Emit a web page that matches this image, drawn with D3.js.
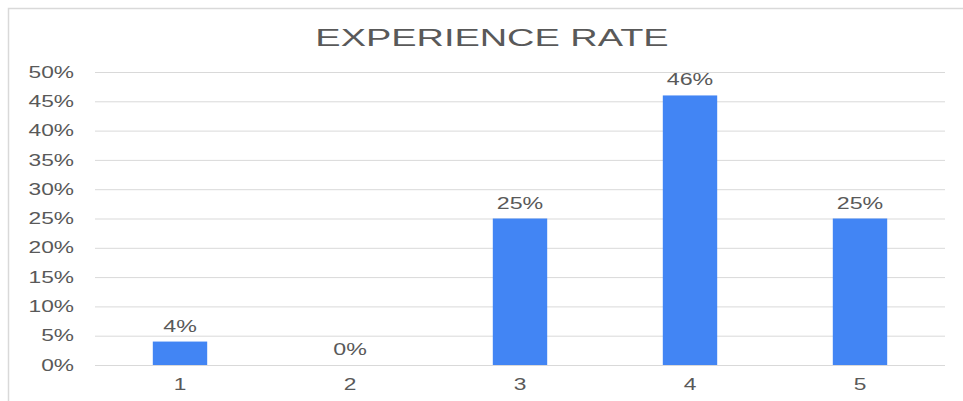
<!DOCTYPE html>
<html><head><meta charset="utf-8">
<script src="https://cdn.jsdelivr.net/npm/d3@7"></script>
<style>body{margin:0;background:#fff;}svg{display:block;}</style>
</head><body>
<script>
const categories = ["1","2","3","4","5"];
const values = [0.04, 0.00, 0.25, 0.46, 0.25];
const valueLabels = ["4%","0%","25%","46%","25%"];
const yTicks = [0,0.05,0.10,0.15,0.20,0.25,0.30,0.35,0.40,0.45,0.50];
const title = "EXPERIENCE RATE";

const W = 963, H = 401;
const svg = d3.select("body").append("svg").attr("width", W).attr("height", H);
svg.append("rect").attr("x", 8.5).attr("y", 8.5).attr("width", W).attr("height", H)
  .attr("fill", "#fff").attr("stroke", "#d9d9d9").attr("stroke-width", 1.5);

const x = d3.scaleBand().domain(categories).range([95, 945]).paddingInner(0.68).paddingOuter(0.34);
const y = d3.scaleLinear().domain([0, 0.5]).range([365, 72]);

const font = "'Liberation Sans', Arial, sans-serif";

function stretch(sel, k) {
  sel.each(function() {
    const len = this.getComputedTextLength();
    d3.select(this).attr("textLength", len * k).attr("lengthAdjust", "spacingAndGlyphs");
  });
}

const t = svg.append("text").attr("x", 492).attr("y", 46).attr("text-anchor", "middle")
  .attr("font-family", font).attr("font-size", 24).attr("fill", "#595959").text(title);
stretch(t, 1.58);

const yAxis = d3.axisLeft(y).tickValues(yTicks).tickSize(-850).tickPadding(21)
  .tickFormat(d3.format(".0%"));
const gy = svg.append("g").attr("transform", "translate(95,0)").call(yAxis);
gy.select(".domain").remove();
gy.selectAll(".tick line").attr("stroke", "#d9d9d9").attr("stroke-width", 1);
gy.selectAll(".tick text").attr("font-family", font).attr("font-size", 16).attr("fill", "#595959");
stretch(gy.selectAll(".tick text"), 1.42);

const xAxis = d3.axisBottom(x).tickSize(0).tickPadding(14);
const gx = svg.append("g").attr("transform", "translate(0,365)").call(xAxis);
gx.select(".domain").remove();
gx.selectAll(".tick text").attr("font-family", font).attr("font-size", 16).attr("fill", "#595959");
stretch(gx.selectAll(".tick text"), 1.42);

svg.selectAll("rect.bar").data(values).join("rect").attr("class", "bar")
  .attr("x", (d, i) => x(categories[i])).attr("width", x.bandwidth())
  .attr("y", d => y(d)).attr("height", d => y(0) - y(d))
  .attr("fill", "#4285F4");

const vl = svg.selectAll("text.vl").data(values).join("text").attr("class", "vl")
  .attr("x", (d, i) => x(categories[i]) + x.bandwidth() / 2)
  .attr("y", d => y(d) - 10).attr("text-anchor", "middle")
  .attr("font-family", font).attr("font-size", 16).attr("fill", "#595959")
  .text((d, i) => valueLabels[i]);
stretch(vl, 1.45);
</script>
</body></html>
